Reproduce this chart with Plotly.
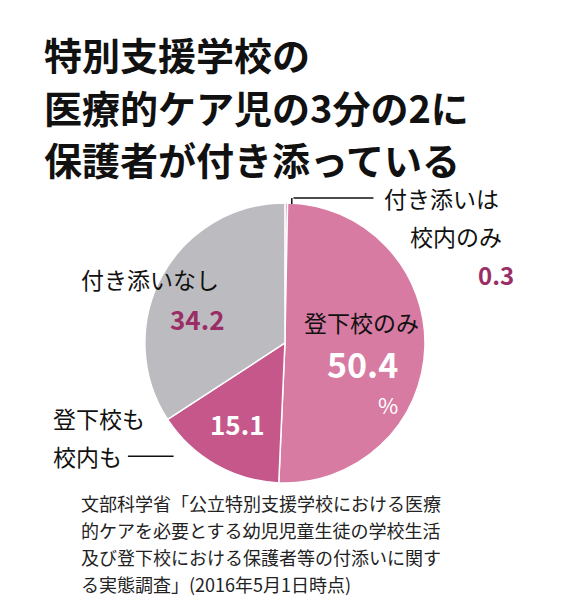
import plotly.graph_objects as go

labels = ["付き添いは校内のみ", "登下校のみ", "登下校も校内も", "付き添いなし"]
values = [0.3, 50.4, 15.1, 34.2]
colors = ["#d87ba3", "#d87ba3", "#c5578a", "#bcbcc0"]

title_lines = ["特別支援学校の", "医療的ケア児の3分の2に", "保護者が付き添っている"]
note_lines = [
    "文部科学省「公立特別支援学校における医療",
    "的ケアを必要とする幼児児童生徒の学校生活",
    "及び登下校における保護者等の付添いに関す",
    "る実態調査」(2016年5月1日時点)",
]

fig = go.Figure(go.Pie(
    labels=labels, values=values, sort=False, direction="clockwise", rotation=0,
    marker=dict(colors=colors, line=dict(color="white", width=1.5)),
    textinfo="none", hoverinfo="label+value", showlegend=False,
    domain=dict(x=[0.235, 0.735], y=[0.22, 0.68]),
))

font = "Noto Sans CJK JP"
ann = []
for i, t in enumerate(title_lines):
    ann.append(dict(x=0.06, y=0.925 - i * 0.086, text="<b>%s</b>" % t, font=dict(size=38, color="#111")))
for i, t in enumerate(note_lines):
    ann.append(dict(x=0.125, y=0.187 - i * 0.044, text=t, font=dict(size=18, color="#222")))

def lab(x, y, text, size=23, color="#111"):
    ann.append(dict(x=x, y=y, text=text, font=dict(size=size, color=color)))

lab(0.655, 0.688, "付き添いは")
lab(0.7, 0.625, "校内のみ")
lab(0.82, 0.562, "<b>%s</b>" % values[0], 24, "#9b2d66")
lab(0.125, 0.555, "付き添いなし")
lab(0.28, 0.49, "<b>%s</b>" % values[3], 26, "#9b2d66")
lab(0.515, 0.485, "登下校のみ")
lab(0.555, 0.417, "<b>%s</b>" % values[1], 34, "white")
lab(0.645, 0.35, "%", 22, "white")
lab(0.075, 0.327, "登下校も")
lab(0.075, 0.264, "校内も")
lab(0.35, 0.318, "<b>%s</b>" % values[2], 26, "white")
for a in ann:
    a.update(xref="paper", yref="paper", xanchor="left", yanchor="middle", showarrow=False)
    a["font"]["family"] = font
fig.update_layout(annotations=ann)

fig.add_shape(type="line", xref="paper", yref="paper", x0=0.497, y0=0.688, x1=0.497, y1=0.678, line=dict(color="#111", width=1.5))
fig.add_shape(type="line", xref="paper", yref="paper", x0=0.5, y0=0.688, x1=0.64, y1=0.688, line=dict(color="#111", width=1.5))
fig.add_shape(type="line", xref="paper", yref="paper", x0=0.21, y0=0.264, x1=0.29, y1=0.264, line=dict(color="#111", width=1.5))

fig.update_layout(width=571, height=609, margin=dict(l=0, r=0, t=0, b=0),
                  paper_bgcolor="white", font=dict(family=font))
fig.write_html("out.html")
